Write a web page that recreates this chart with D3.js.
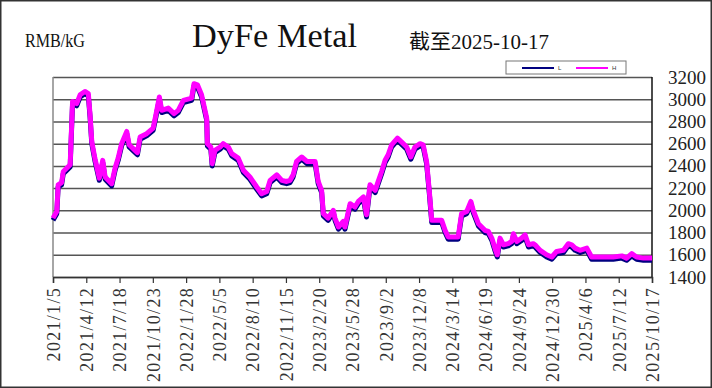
<!DOCTYPE html>
<html>
<head>
<meta charset="utf-8">
<script src="https://cdn.jsdelivr.net/npm/d3@7"></script>
<style>
  body { margin: 0; background: #fff; }
</style>
</head>
<body>
<div id="my_dataviz"></div>
<script>

// dates of the price points
var dates = [
  "2021-01-05","2021-01-16","2021-01-20","2021-01-30","2021-02-04","2021-02-24","2021-03-03","2021-03-15","2021-03-25","2021-04-08",
  "2021-04-18","2021-04-23","2021-04-28","2021-05-07","2021-05-20","2021-05-30","2021-06-06","2021-06-25","2021-07-05","2021-07-14",
  "2021-07-24","2021-08-08","2021-08-15","2021-09-01","2021-09-08","2021-09-16","2021-10-05","2021-10-24","2021-11-01","2021-11-11",
  "2021-11-18","2021-12-07","2021-12-24","2022-01-05","2022-01-20","2022-02-13","2022-02-20","2022-03-02","2022-03-14","2022-03-29",
  "2022-03-31","2022-04-10","2022-04-14","2022-04-22","2022-05-07","2022-05-16","2022-05-31","2022-06-10","2022-06-29","2022-07-14",
  "2022-08-02","2022-08-22","2022-09-05","2022-09-20","2022-09-30","2022-10-19","2022-11-03","2022-11-17","2022-11-27","2022-12-06",
  "2022-12-16","2022-12-31","2023-01-15","2023-02-08","2023-02-17","2023-02-27","2023-03-04","2023-03-18","2023-04-02","2023-04-07",
  "2023-04-17","2023-05-01","2023-05-06","2023-05-21","2023-06-04","2023-06-14","2023-06-29","2023-07-08","2023-07-18","2023-08-02",
  "2023-08-11","2023-08-21","2023-08-31","2023-09-09","2023-09-19","2023-10-06","2023-10-23","2023-11-02","2023-11-14","2023-11-26",
  "2023-12-11","2023-12-20","2023-12-30","2024-01-07","2024-01-14","2024-02-12","2024-02-22","2024-03-02","2024-03-31","2024-04-10",
  "2024-04-25","2024-05-07","2024-05-14","2024-05-29","2024-06-17","2024-06-27","2024-07-07","2024-07-16","2024-07-23","2024-07-31",
  "2024-08-10","2024-08-24","2024-09-03","2024-09-08","2024-09-18","2024-10-02","2024-10-12","2024-10-22","2024-11-05","2024-11-10",
  "2024-11-25","2024-12-14","2024-12-29","2025-01-12","2025-02-01","2025-02-15","2025-02-25","2025-03-07","2025-03-21","2025-04-10",
  "2025-04-24","2025-05-09","2025-06-26","2025-07-21","2025-08-04","2025-08-19","2025-09-02","2025-09-22","2025-10-17"
]

// high price (H, magenta)
var highs = [
  1930,1990,2230,2250,2350,2410,2980,2960,3040,3070,
  3050,2860,2620,2470,2290,2450,2300,2240,2380,2470,
  2600,2710,2590,2540,2520,2660,2690,2740,2860,3020,
  2900,2920,2870,2900,2990,3010,3140,3130,3040,2830,
  2600,2570,2420,2540,2570,2600,2570,2510,2470,2360,
  2300,2210,2150,2170,2270,2320,2270,2260,2270,2320,
  2440,2480,2440,2440,2260,2180,1970,1930,2000,1930,
  1850,1900,1850,2060,2030,2080,2120,1960,2230,2180,
  2260,2350,2450,2500,2590,2650,2600,2570,2480,2570,
  2600,2590,2440,2170,1910,1910,1820,1760,1760,1970,
  1990,2080,2000,1880,1820,1810,1750,1660,1600,1750,
  1690,1700,1720,1790,1720,1750,1780,1690,1700,1690,
  1640,1600,1580,1630,1640,1700,1690,1660,1640,1660,
  1580,1580,1580,1590,1570,1610,1580,1570,1570
]

// low price (L, navy)
var lows = [
  1910,1970,2210,2230,2330,2390,2960,2940,3020,3050,
  3030,2840,2600,2450,2270,2430,2280,2220,2360,2450,
  2580,2690,2570,2520,2500,2640,2670,2720,2840,3000,
  2880,2900,2850,2880,2970,2990,3120,3110,3020,2810,
  2580,2550,2400,2520,2550,2580,2550,2490,2450,2340,
  2280,2190,2130,2150,2250,2300,2250,2240,2250,2300,
  2420,2460,2420,2420,2240,2160,1950,1910,1980,1910,
  1830,1880,1830,2040,2010,2060,2100,1940,2210,2160,
  2240,2330,2430,2480,2570,2630,2580,2550,2460,2550,
  2580,2570,2420,2150,1890,1890,1800,1740,1740,1950,
  1970,2060,1980,1860,1800,1790,1730,1640,1580,1730,
  1670,1680,1700,1770,1700,1730,1760,1670,1680,1670,
  1620,1580,1560,1610,1620,1680,1670,1640,1620,1640,
  1560,1560,1560,1570,1550,1590,1560,1550,1550
]

var xTickLabels = ["2021/1/5","2021/4/12","2021/7/18","2021/10/23","2022/1/28","2022/5/5","2022/8/10",
  "2022/11/15","2023/2/20","2023/5/28","2023/9/2","2023/12/8","2024/3/14","2024/6/19","2024/9/24",
  "2024/12/30","2025/4/6","2025/7/12","2025/10/17"]
var yTicks = [1400,1600,1800,2000,2200,2400,2600,2800,3000,3200]

var W = 712, H = 388
var margin = {top: 77, right: 60, bottom: 111, left: 53}
var width = 652 - margin.left
var height = 277 - margin.top

var serifFont = "'Liberation Serif', 'Noto Sans CJK SC', serif"

var parseDay = d3.timeParse("%Y-%m-%d")
var parseTick = d3.timeParse("%Y/%m/%d")

var data = dates.map(function(d, i) {
  return {date: parseDay(d), h: highs[i], l: lows[i]}
})

// the svg
var svg = d3.select("#my_dataviz")
  .append("svg")
    .attr("width", W)
    .attr("height", H)

// outer frame
svg.append("rect")
  .attr("x", 0.75).attr("y", 0.75)
  .attr("width", W - 1.5).attr("height", H - 1.5)
  .attr("fill", "#fff")
  .attr("stroke", "#333")
  .attr("stroke-width", 1.5)

// titles
svg.append("text")
  .attr("x", 25).attr("y", 47)
  .attr("textLength", 60).attr("lengthAdjust", "spacingAndGlyphs")
  .style("font-family", serifFont)
  .style("font-size", "19px")
  .attr("fill", "#111")
  .text("RMB/kG")

svg.append("text")
  .attr("x", 192).attr("y", 47)
  .attr("textLength", 165).attr("lengthAdjust", "spacingAndGlyphs")
  .style("font-family", serifFont)
  .style("font-size", "34px")
  .attr("fill", "#111")
  .text("DyFe Metal")

svg.append("text")
  .attr("x", 409).attr("y", 49)
  .attr("textLength", 140).attr("lengthAdjust", "spacingAndGlyphs")
  .style("font-family", serifFont)
  .style("font-size", "20px")
  .attr("fill", "#111")
  .text("截至2025-10-17")

var g = svg.append("g")
  .attr("transform", "translate(" + margin.left + "," + margin.top + ")")

// scales
var x = d3.scaleTime()
  .domain([parseDay(dates[0]), parseDay(dates[dates.length - 1])])
  .range([0, width])

var y = d3.scaleLinear()
  .domain([1400, 3200])
  .range([height, 0])

// gridlines
g.append("g")
  .call(d3.axisLeft(y).tickValues(yTicks).tickSize(-width).tickFormat(""))
  .call(function(s) {
    s.select(".domain").remove()
    s.selectAll("line").attr("stroke", "#555").attr("stroke-width", 1.5)
  })

// left border
g.append("line")
  .attr("x1", 0).attr("x2", 0).attr("y1", 0).attr("y2", height)
  .attr("stroke", "#888").attr("stroke-width", 1.5)

// right border
g.append("line")
  .attr("x1", width).attr("x2", width).attr("y1", 0).attr("y2", height)
  .attr("stroke", "#111").attr("stroke-width", 1.5)

// Y axis labels on the right
g.append("g")
  .attr("transform", "translate(" + width + ",0)")
  .call(d3.axisRight(y).tickValues(yTicks).tickSize(0).tickPadding(16).tickFormat(d3.format("d")))
  .call(function(s) {
    s.select(".domain").remove()
    s.selectAll("text")
      .style("font-family", serifFont)
      .style("font-size", "19px")
      .attr("fill", "#222")
  })

// X axis
var xTicks = xTickLabels.map(function(t) { return parseTick(t) })
g.append("g")
  .attr("transform", "translate(0," + height + ")")
  .call(d3.axisBottom(x).tickValues(xTicks).tickSize(6)
    .tickFormat(function(d, i) { return xTickLabels[i] }))
  .call(function(s) {
    s.select(".domain").attr("stroke", "#333").attr("stroke-width", 1.5)
    s.selectAll(".tick line").attr("stroke", "#333").attr("stroke-width", 1.2)
    s.selectAll("text")
      .attr("transform", "rotate(-90)")
      .attr("x", -10)
      .attr("y", 0)
      .attr("dy", "0.35em")
      .attr("fill", "#333")
      .style("text-anchor", "end")
      .style("font-family", serifFont)
      .style("font-size", "18px")
      .style("letter-spacing", "1.3px")
  })

// lines
var lineL = d3.line()
  .x(function(d) { return x(d.date) })
  .y(function(d) { return y(d.l) })
var lineH = d3.line()
  .x(function(d) { return x(d.date) })
  .y(function(d) { return y(d.h) })

g.append("path")
  .datum(data)
  .attr("fill", "none")
  .attr("stroke", "#000080")
  .attr("stroke-width", 5)
  .attr("stroke-linejoin", "round")
  .attr("d", lineL)

g.append("path")
  .datum(data)
  .attr("fill", "none")
  .attr("stroke", "#ff00ff")
  .attr("stroke-width", 5)
  .attr("stroke-linejoin", "round")
  .attr("d", lineH)

// legend
var leg = svg.append("g")
leg.append("rect")
  .attr("x", 506).attr("y", 61).attr("width", 120).attr("height", 13)
  .attr("fill", "#fff").attr("stroke", "#777").attr("stroke-width", 1)
var legItems = [{name: "L", color: "#000080", x: 522}, {name: "H", color: "#ff00ff", x: 576}]
legItems.forEach(function(it) {
  leg.append("line")
    .attr("x1", it.x).attr("x2", it.x + 32).attr("y1", 68).attr("y2", 68)
    .attr("stroke", it.color).attr("stroke-width", 2)
  leg.append("text")
    .attr("x", it.x + 36).attr("y", 70)
    .style("font-family", "'Liberation Sans', sans-serif")
    .style("font-size", "6px")
    .attr("fill", "#333")
    .text(it.name)
})

</script>
</body>
</html>
